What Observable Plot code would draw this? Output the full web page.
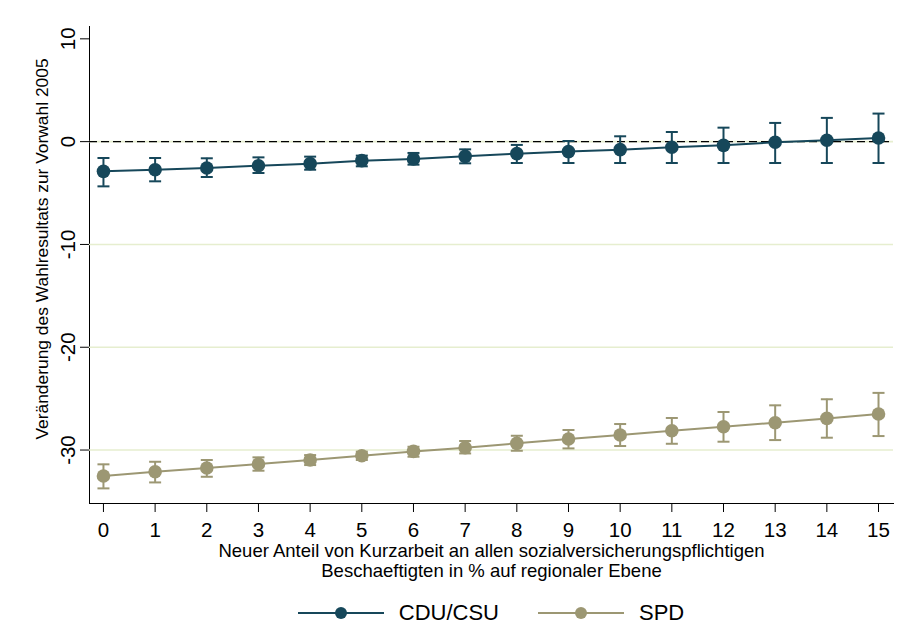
<!DOCTYPE html>
<html>
<head>
<meta charset="utf-8">
<script src="https://cdn.jsdelivr.net/npm/d3@7"></script>
<script src="https://cdn.jsdelivr.net/npm/@observablehq/plot@0.6"></script>
<style>
  body { margin: 0; background: #fff; font-family: "Liberation Sans", Arial, sans-serif; }
  #wrap { position: relative; width: 923px; height: 641px; }
  #legend { position: absolute; top: 590px; left: 89px; width: 804px; height: 46px;
            display: flex; justify-content: center; align-items: center; gap: 39px;
            font-size: 22px; color: #000; }
  .item { display: flex; align-items: center; }
  .item span { margin-left: 15px; }
</style>
</head>
<body>
<div id="wrap"><div id="chart"></div><div id="legend"></div></div>
<script>
const parties = ["CDU/CSU", "SPD"];
const colors = ["#16475a", "#9c9773"];
const xs = [0, 1, 2, 3, 4, 5, 6, 7, 8, 9, 10, 11, 12, 13, 14, 15];
const cduEst = [-2.89, -2.73, -2.56, -2.34, -2.14, -1.85, -1.69, -1.43, -1.17, -0.97, -0.78, -0.55, -0.36, -0.06, 0.13, 0.36];
const cduLo  = [-4.35, -3.86, -3.44, -3.05, -2.73, -2.40, -2.24, -2.11, -2.08, -2.08, -2.08, -2.08, -2.08, -2.08, -2.08, -2.08];
const cduHi  = [-1.59, -1.59, -1.62, -1.53, -1.46, -1.36, -1.10, -0.75, -0.32, 0.06, 0.52, 0.94, 1.36, 1.82, 2.31, 2.73];
const spdEst = [-32.53, -32.11, -31.75, -31.36, -30.97, -30.55, -30.13, -29.78, -29.35, -28.93, -28.54, -28.12, -27.73, -27.34, -26.92, -26.49];
const spdLo  = [-33.73, -33.15, -32.60, -32.01, -31.46, -30.97, -30.65, -30.33, -30.07, -29.84, -29.61, -29.39, -29.19, -29.03, -28.80, -28.64];
const spdHi  = [-31.39, -31.14, -30.97, -30.71, -30.49, -30.16, -29.68, -29.12, -28.61, -28.05, -27.47, -26.88, -26.30, -25.65, -25.06, -24.44];
const yTicks = [-30, -20, -10, 0, 10];
const gridTicks = [-30, -20, -10, 0];
const refLine = [0];
const xTitle = "Neuer Anteil von Kurzarbeit an allen sozialversicherungspflichtigen\nBeschaeftigten in % auf regionaler Ebene";
const yTitle = "Veränderung des Wahlresultats zur Vorwahl 2005";

const data = xs.flatMap((x, i) => [
  {party: parties[0], x, est: cduEst[i], lo: cduLo[i], hi: cduHi[i]},
  {party: parties[1], x, est: spdEst[i], lo: spdLo[i], hi: spdHi[i]}
]);

const capSymbol = {
  draw(ctx, size) {
    const r = Math.sqrt(size / Math.PI);
    ctx.moveTo(-r, 0);
    ctx.lineTo(r, 0);
  }
};

const chart = Plot.plot({
  width: 923,
  height: 590,
  marginLeft: 89,
  marginRight: 30,
  marginTop: 26,
  marginBottom: 87,
  style: {fontFamily: "'Liberation Sans', Arial, sans-serif", fontSize: "20.5px", color: "#000", background: "#fff"},
  x: {domain: [-0.27, 15.29], ticks: xs, tickSize: 9, tickPadding: 10, line: true, label: null, tickFormat: d => String(d)},
  y: {domain: [-35.2, 11.2], ticks: yTicks, tickSize: 9, tickPadding: 6, tickRotate: -90, line: true, label: null, tickFormat: d => String(d)},
  color: {domain: parties, range: colors},
  marks: [
    Plot.ruleY(gridTicks, {stroke: "#e6eecf", strokeWidth: 1.6}),
    Plot.ruleY(refLine, {stroke: "#000", strokeWidth: 1.3, strokeDasharray: "8,4"}),
    Plot.ruleX(data, {x: "x", y1: "lo", y2: "hi", stroke: "party", strokeWidth: 2}),
    Plot.dot(data, {x: "x", y: "lo", symbol: capSymbol, r: 6, stroke: "party", strokeWidth: 2, fill: "none"}),
    Plot.dot(data, {x: "x", y: "hi", symbol: capSymbol, r: 6, stroke: "party", strokeWidth: 2, fill: "none"}),
    Plot.line(data, {x: "x", y: "est", z: "party", stroke: "party", strokeWidth: 2}),
    Plot.dot(data, {x: "x", y: "est", r: 6.8, fill: "party", stroke: "none"}),
    Plot.text([xTitle], {frameAnchor: "bottom", dy: 40, lineAnchor: "top", textAnchor: "middle", lineHeight: 1.06, fontSize: 18.5, fill: "#000"}),
    Plot.text([yTitle], {frameAnchor: "left", dx: -47, dy: -16, rotate: -90, textAnchor: "middle", lineAnchor: "middle", fontSize: 17.4, fill: "#000"})
  ]
});
document.getElementById("chart").appendChild(chart);

const legend = document.getElementById("legend");
parties.forEach((p, i) => {
  const item = document.createElement("div");
  item.className = "item";
  item.innerHTML = `<svg width="86" height="14"><line x1="0" x2="86" y1="7" y2="7" stroke="${colors[i]}" stroke-width="2"/><circle cx="43" cy="7" r="6" fill="${colors[i]}"/></svg><span>${p}</span>`;
  legend.appendChild(item);
});
</script>
</body>
</html>
